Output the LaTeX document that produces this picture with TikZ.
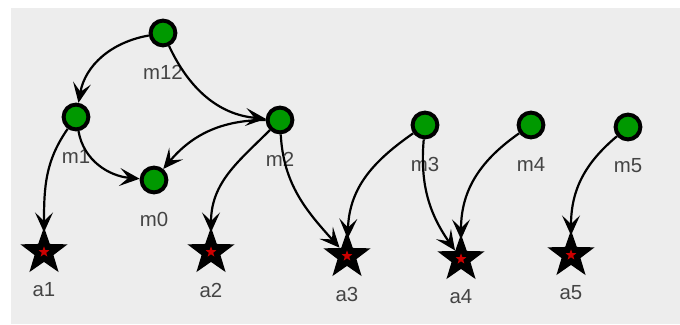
\documentclass[tikz,border=0pt]{standalone}
\usepackage{fontspec}
\setsansfont{Liberation Sans}
\usetikzlibrary{arrows.meta}
\usetikzlibrary{shapes.geometric}
\definecolor{fond}{HTML}{EDEDED}
\definecolor{vert}{HTML}{009900}
\definecolor{rouge}{HTML}{CC0000}
\definecolor{texte}{HTML}{444444}

\begin{document}
\begin{tikzpicture}[x=0.025cm, y=0.025cm,
    every label/.style={font=\sffamily\fontsize{14.5pt}{17pt}\selectfont, text=texte, inner sep=0pt},
    module/.style={circle, draw=black, line width=0.1cm, fill=vert, minimum size=0.62cm, inner sep=0pt,
        label={[yshift=-0.975cm]center:#1}},
    leaf/.style={star, star points=5, star point ratio=2.5, fill=black, minimum size=1.24cm, inner sep=0pt,
        label={[yshift=-0.95cm]center:#1},
        path picture={\node[star, star points=5, star point ratio=2.4, fill=rouge, minimum size=0.28cm, inner sep=0pt]
            at ([yshift=-0.059cm]path picture bounding box.center) {};}},
    link/.style={-{Stealth[length=0.5cm, width=0.45cm, inset=0.22cm]}, line width=0.055cm},
    down/.style={shorten >=-0.15cm}]
% fond gris
\useasboundingbox (0,0) rectangle (680,-324);
\fill[fond] (11,-8) rectangle (680,-324);
% les modules
\node[module=m12] (m12) at (163,-33) {};
\node[module=m1] (m1) at (76,-117) {};
\node[module=m2] (m2) at (280,-120) {};
\node[module=m0] (m0) at (154,-180) {};
\node[module=m3] (m3) at (425,-125) {};
\node[module=m4] (m4) at (531,-125) {};
\node[module=m5] (m5) at (628,-127) {};
% les feuilles
\node[leaf=a1] (a1) at (44,-252) {};
\node[leaf=a2] (a2) at (211,-252) {};
\node[leaf=a3] (a3) at (347,-256) {};
\node[leaf=a4] (a4) at (461,-259) {};
\node[leaf=a5] (a5) at (571,-255) {};
% les fleches
\draw[link] (m12) to[out=190, in=80] (m1);
\draw[link] (m12) to[out=-65, in=175] (m2);
\draw[link] (m2) to[out=180, in=50] (m0);
\draw[link] (m1) to[out=-80, in=175] (m0);
\draw[link, down] (m1) to[out=-125, in=90] (a1);
\draw[link, down] (m2) to[out=-135, in=90] (a2);
\draw[link] (m2) to[out=-87, in=132] (a3);
\draw[link, down] (m3) to[out=-145, in=88] (a3);
\draw[link] (m3) to[out=-95, in=125] (a4);
\draw[link, down] (m4) to[out=-145, in=90] (a4);
\draw[link, down] (m5) to[out=-140, in=90] (a5);
\end{tikzpicture}
\end{document}
